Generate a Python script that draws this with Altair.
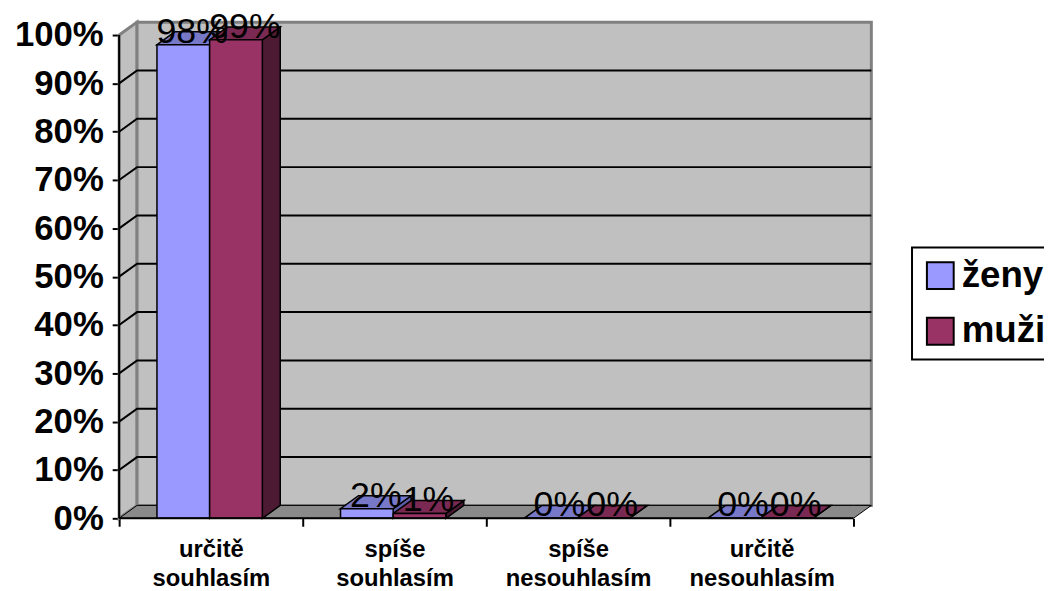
import altair as alt
import pandas as pd

categories = ["určitě souhlasím", "spíše souhlasím", "spíše nesouhlasím", "určitě nesouhlasím"]
series = ["ženy", "muži"]
zeny = [98, 2, 0, 0]
muzi = [99, 1, 0, 0]
y_ticks = [0, 10, 20, 30, 40, 50, 60, 70, 80, 90, 100]

front_colors = ["#9999FF", "#993366"]
top_colors = ["#7878C8", "#7A2952"]
side_colors = ["#5C5CA8", "#4D1A33"]
WALL = "#C0C0C0"
FLOOR = "#8A8A8A"

# 3D geometry (style constants)
DX = 0.0976   # depth offset along x, in category units
DY = 2.67     # depth offset along y, in percent units
BAR_W = 0.287
BAR_X0 = 0.206
N = len(categories)
FONT = "Liberation Sans"

values = {"ženy": zeny, "muži": muzi}

front_rows, label_rows = [], []
face_rows = {(kind, j): [] for kind in ("side", "top") for j in range(len(series))}
for i, c in enumerate(categories):
    for j, s in enumerate(series):
        v = values[s][i]
        x0 = i + BAR_X0 + j * BAR_W
        x1 = x0 + BAR_W
        front_rows.append(dict(series=s, x0=x0, x1=x1, y0=0, v=v))
        label_rows.append(dict(lx=(x0 + x1) / 2 + DX / 2, v=v, label=f"{v}%"))
        for k, (px, py, py2) in enumerate([(x1, 0, v), (x1 + DX, DY, v + DY)]):
            face_rows[("side", j)].append(dict(shape=f"{i}{j}s", pt=k, x=px, y=py, y2=py2))
        for k, (px, py, py2) in enumerate([(x0, v, v), (x0 + DX, v, v + DY),
                                           (x1, v, v + DY), (x1 + DX, v + DY, v + DY)]):
            face_rows[("top", j)].append(dict(shape=f"{i}{j}t", pt=k, x=px, y=py, y2=py2))

wall_rows = []
for k, (px, py, py2) in enumerate([(0, 0, 100), (DX, DY, 100 + DY)]):
    wall_rows.append(dict(shape="a_left", pt=k, x=px, y=py, y2=py2))
for k, (px, py, py2) in enumerate([(DX, DY, 100 + DY), (N + DX, DY, 100 + DY)]):
    wall_rows.append(dict(shape="b_back", pt=k, x=px, y=py, y2=py2))
floor_rows = []
for k, (px, py, py2) in enumerate([(0, 0, 0), (DX, 0, DY), (N, 0, DY), (N + DX, DY, DY)]):
    floor_rows.append(dict(shape="c_floor", pt=k, x=px, y=py, y2=py2))

grid_rows = []
for t in y_ticks[1:-1]:
    for k, (px, py) in enumerate([(0, t), (DX, t + DY), (N + DX, t + DY)]):
        grid_rows.append(dict(g=t, pt=k, x=px, y=py))

xscale = alt.Scale(domain=[0, N + DX], nice=False, zero=False)
yscale = alt.Scale(domain=[0, 100 + DY], nice=False, zero=False)

cat_js = "[" + ",".join("'" + c + "'" for c in categories) + "]"
x_axis = alt.Axis(
    values=[k * 0.5 for k in range(2 * N + 1)],
    labelExpr=f"datum.value % 1 == 0 ? '' : split({cat_js}[floor(datum.value)], ' ')",
    tickOpacity={"condition": {"test": "datum.value % 1 == 0", "value": 1}, "value": 0},
    tickSize=8, tickWidth=2, tickColor="black", domain=False, grid=False,
    labelFont=FONT, labelFontSize=24, labelFontWeight="bold", labelColor="black",
    labelLineHeight=30, labelPadding=11, labelAngle=0, title=None,
)
y_axis = alt.Axis(
    values=y_ticks, labelExpr="datum.value + '%'",
    tickSize=7, tickWidth=2, tickColor="black", domain=False, grid=False,
    labelFont=FONT, labelFontSize=35, labelFontWeight="bold", labelColor="black",
    labelPadding=9, title=None,
)

def X(f):
    return alt.X(f"{f}:Q", scale=xscale, axis=x_axis)

def Y(f):
    return alt.Y(f"{f}:Q", scale=yscale, axis=y_axis, stack=None)

def poly(rows, fill, stroke, sw):
    return alt.Chart(pd.DataFrame(rows)).mark_area(
        orient="vertical", fill=fill, stroke=stroke, strokeWidth=sw, opacity=1,
        interpolate="linear",
    ).encode(
        x=X("x"), y=Y("y"), y2="y2", detail="shape:N",
    )

walls = poly(wall_rows, WALL, "#808080", 3)
floor = poly(floor_rows, FLOOR, "black", 1)
grid = alt.Chart(pd.DataFrame(grid_rows)).mark_line(color="black", strokeWidth=2).encode(
    x=X("x"), y=Y("y"), detail="g:N", order="pt:Q",
)
face_layers = []
for j in range(len(series)):
    face_layers.append(poly(face_rows[("side", j)], side_colors[j], "black", 1.5))
    face_layers.append(poly(face_rows[("top", j)], top_colors[j], "black", 1.5))

fronts = alt.Chart(pd.DataFrame(front_rows)).mark_rect(
    stroke="black", strokeWidth=1.5, opacity=1
).encode(
    x=X("x0"), x2="x1", y=Y("y0"), y2="v",
    color=alt.Color(
        "series:N",
        scale=alt.Scale(domain=series, range=front_colors),
        legend=alt.Legend(
            orient="none", legendX=799, legendY=227, title=None,
            symbolType="square", symbolSize=729, symbolStrokeColor="black",
            symbolStrokeWidth=2, symbolOpacity=1,
            labelFont=FONT, labelFontSize=37, labelFontWeight="bold", labelColor="black",
            strokeColor="black", padding=10, rowPadding=18, labelOffset=3,
            fillColor="white",
        ),
    ),
)
axis_rule_rows = [dict(x=0, x2=N, y=0, y2=100)]
x_rule = alt.Chart(pd.DataFrame(axis_rule_rows)).mark_rule(color="black", strokeWidth=2).encode(
    x=X("x"), x2="x2", y=Y("y"),
)
y_rule = alt.Chart(pd.DataFrame(axis_rule_rows)).mark_rule(color="black", strokeWidth=2).encode(
    x=X("x"), y=Y("y"), y2="y2",
)
labels = alt.Chart(pd.DataFrame(label_rows)).mark_text(
    font=FONT, fontSize=36, color="black", baseline="alphabetic", align="center", dy=-2
).encode(
    x=X("lx"), y=Y("v"), text="label:N",
)

chart = alt.layer(walls, floor, grid, *face_layers, fronts, x_rule, y_rule, labels).properties(
    width=758, height=500,
    padding={"left": 112, "top": 12, "right": 174, "bottom": 71},
    autosize="none",
).configure_view(stroke=None).configure_legend(strokeWidth=2)

chart.save("out.html", embed_options={"renderer": "svg", "actions": False})
